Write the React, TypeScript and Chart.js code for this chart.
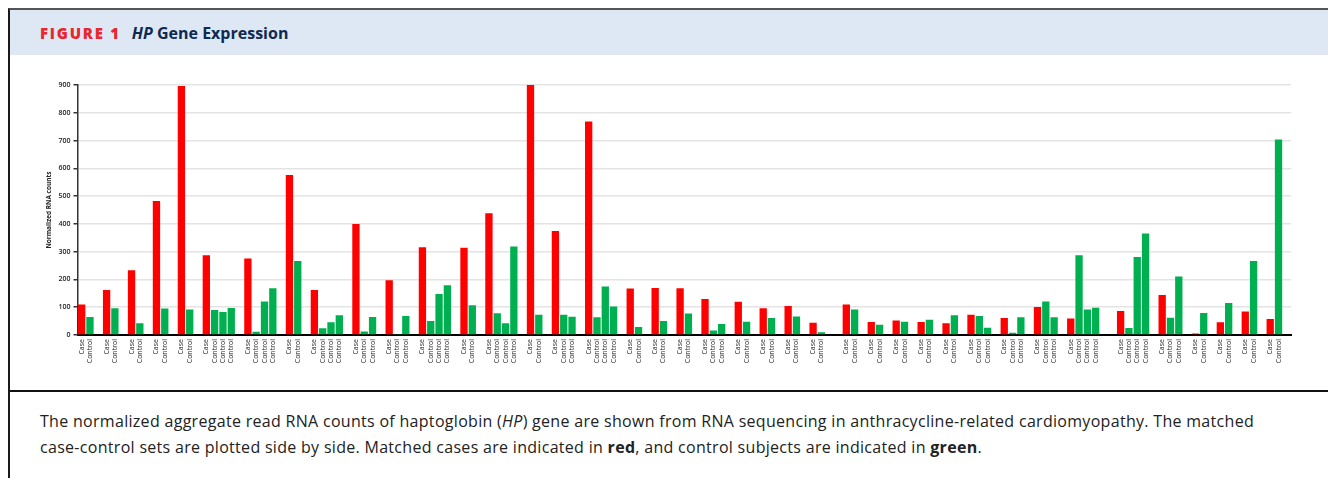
import React, { useEffect, useRef } from "react";
import { Chart, registerables } from "chart.js";

Chart.register(...registerables);

// Case value of each matched case-control set (in plotting order)
const caseValues = [
  110, 162, 233, 482, 896, 287, 275, 576, 162, 400,
  197, 316, 314, 438, 900, 374, 769, 167, 169, 168,
  130, 120, 96, 104, 44, 110, 47, 52, 47, 42,
  73, 61, 101, 59, 86, 144, 5, 46, 85, 58,
];

// Control values belonging to each set
const controlValues = [
  [65], [96], [42], [95], [92], [90, 83, 97], [12, 121, 168], [266], [24, 46, 71], [13, 65],
  [4, 68], [50, 148, 179], [107], [78, 42, 319], [73], [73, 66], [64, 175, 103], [29], [50], [77],
  [16, 40], [48], [61], [67], [10], [92], [37], [48], [55], [71],
  [68, 26], [8, 64], [121, 64], [287, 92, 98], [25, 281, 365], [62, 211], [79], [115], [266], [704],
];

// Sets that are followed by an extra empty slot on the axis
const extraGapAfterSet = [24, 33];

const caseLabel = "Case";
const controlLabel = "Control";
const yMin = 0;
const yMax = 900;
const yStep = 100;

function buildData() {
  const labels: string[] = [];
  const caseData: (number | null)[] = [];
  const controlData: (number | null)[] = [];
  caseValues.forEach((c, g) => {
    labels.push(caseLabel);
    caseData.push(c);
    controlData.push(null);
    controlValues[g].forEach((v) => {
      labels.push(controlLabel);
      caseData.push(null);
      controlData.push(v);
    });
    const gaps = extraGapAfterSet.includes(g) ? 2 : 1;
    for (let i = 0; i < gaps; i++) {
      labels.push("");
      caseData.push(null);
      controlData.push(null);
    }
  });
  return { labels, caseData, controlData };
}

const FONT = '"Open Sans", "Noto Sans", sans-serif';

function HPChart() {
  const ref = useRef<HTMLCanvasElement | null>(null);
  useEffect(() => {
    if (!ref.current) return;
    const { labels, caseData, controlData } = buildData();
    const chart = new Chart(ref.current, {
      type: "bar",
      data: {
        labels,
        datasets: [
          {
            data: caseData,
            backgroundColor: "#ff0000",
            grouped: false,
            barPercentage: 0.88,
            categoryPercentage: 1,
          } as any,
          {
            data: controlData,
            backgroundColor: "#00b050",
            grouped: false,
            barPercentage: 0.88,
            categoryPercentage: 1,
          } as any,
        ],
      },
      options: {
        responsive: false,
        animation: false,
        layout: { padding: { left: 0, right: 38, top: 30, bottom: 0 } },
        plugins: { legend: { display: false }, tooltip: { enabled: false } },
        scales: {
          x: {
            grid: { display: false, drawTicks: false },
            border: { display: true, color: "#000", width: 2 },
            ticks: {
              autoSkip: false,
              maxRotation: 90,
              minRotation: 90,
              padding: 4,
              color: "#222",
              font: { family: FONT, size: 7 },
            },
            afterFit: (s: any) => {
              s.height = 55;
            },
          },
          y: {
            min: yMin,
            max: yMax,
            ticks: {
              stepSize: yStep,
              padding: 3,
              color: "#222",
              font: { family: FONT, size: 7, weight: "600" },
            },
            grid: { color: "#e4e4e4", lineWidth: 1.5, tickColor: "#333", tickLength: 4 },
            border: { color: "#333", width: 1.5 },
            title: {
              display: true,
              text: "Normalized RNA counts",
              color: "#222",
              font: { family: FONT, size: 6.5, weight: "bold" },
              padding: { top: 35, bottom: 0 },
            },
            afterFit: (s: any) => {
              s.width = 67.5;
            },
          },
        },
      },
    });
    return () => chart.destroy();
  }, []);
  return <canvas ref={ref} width={1319} height={335} style={{ display: "block", width: 1319, height: 335 }} />;
}

export default function App() {
  return (
    <div
      style={{
        width: 1323,
        boxSizing: "border-box",
        borderLeft: "2px solid #1a1a1a",
        borderRight: "2px solid #1a1a1a",
        borderTop: "2px solid #555",
        fontFamily: FONT,
        background: "#fff",
      }}
    >
      <div
        style={{
          height: 45,
          background: "#dde8f4",
          display: "flex",
          alignItems: "center",
          paddingLeft: 30,
          whiteSpace: "nowrap",
        }}
      >
        <span style={{ color: "#e8262f", fontWeight: 800, fontSize: 15, letterSpacing: 1.75 }}>FIGURE 1</span>
        <span style={{ color: "#0f2a52", fontWeight: 700, fontSize: 16, marginLeft: 11 }}>
          <i>HP</i> Gene Expression
        </span>
      </div>
      <HPChart />
      <div
        style={{
          borderTop: "2px solid #111",
          padding: "16px 0 20px 30px",
          fontSize: 16,
          lineHeight: "26px",
          letterSpacing: 0.3,
          color: "#222",
          whiteSpace: "nowrap",
        }}
      >
        The normalized aggregate read RNA counts of haptoglobin (<i>HP</i>) gene are shown from RNA sequencing in
        anthracycline-related cardiomyopathy. The matched
        <br />
        case-control sets are plotted side by side. Matched cases are indicated in <b>red</b>, and control subjects are
        indicated in <b>green</b>.
      </div>
    </div>
  );
}
